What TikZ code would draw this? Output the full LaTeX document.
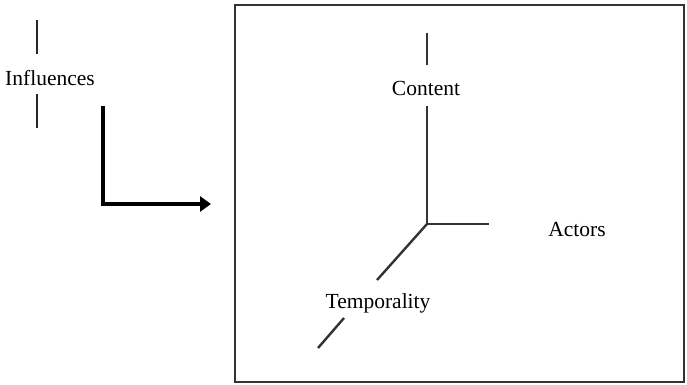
\documentclass[tikz,border=0pt]{standalone}
\usepackage{fontspec}
\setmainfont{Liberation Serif}
\usetikzlibrary{arrows.meta}
\begin{document}
\begin{tikzpicture}[x=1pt,y=-1pt,
  lbl/.style={font=\fontsize{21.5}{25}\selectfont, text=black, inner sep=0pt},
  axis/.style={draw=black!80, line width=2.4pt},
  frame/.style={draw=black!80, line width=2.2pt},
  bigarrow/.style={draw=black, line width=4.5pt, -{Triangle[length=11pt,width=15pt]}}]
\useasboundingbox (0,0) rectangle (687,384);
\fill[white] (0,0) rectangle (687,384);
% frame
\draw[frame] (235,5) rectangle (684,382);
% influences
\node[lbl] (infl) at (50,78) {Influences};
\coordinate (i1) at (37,20);
\coordinate (i2) at (37,54);
\coordinate (i3) at (37,94);
\coordinate (i4) at (37,128);
\draw[axis, draw=black!85, line width=1.8pt] (i1) -- (i2);
\draw[axis, draw=black!85, line width=1.8pt] (i3) -- (i4);
\coordinate (a1) at (103,106);
\coordinate (a2) at (103,204);
\coordinate (a3) at (211,204);
\draw[bigarrow] (a1) -- (a2) -- (a3);
% axes
\coordinate (o) at (427,224);
\coordinate (c1) at (427,33);
\coordinate (c2) at (427,65);
\coordinate (c3) at (427,106);
\coordinate (x1) at (489,224);
\coordinate (t1) at (377,280);
\coordinate (t2) at (344,318);
\coordinate (t3) at (318,348);
\node[lbl] (content) at (426,88) {Content};
\node[lbl] (actors) at (577,229) {Actors};
\node[lbl] (temp) at (378,303) {Temporality};
\draw[axis] (c1) -- (c2);
\draw[axis] (c3) -- (o);
\draw[axis] (o) -- (x1);
\draw[axis] (o) -- (t1);
\draw[axis] (t2) -- (t3);
\end{tikzpicture}
\end{document}
